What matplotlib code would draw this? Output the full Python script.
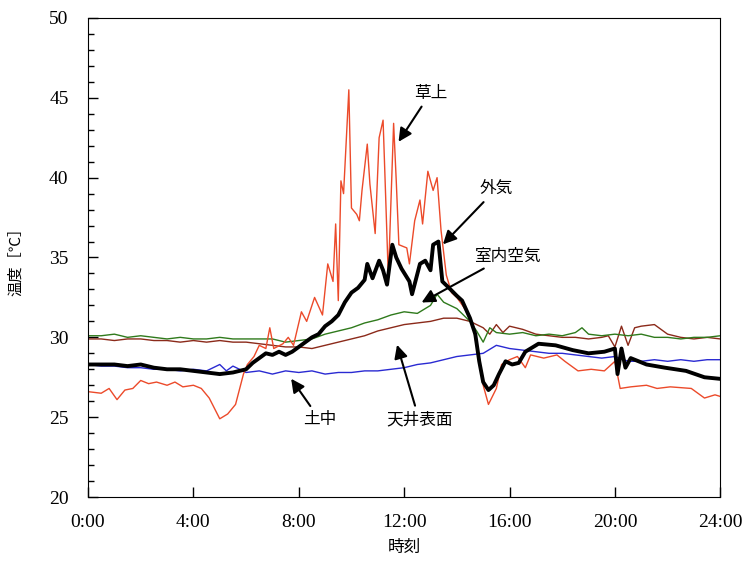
import matplotlib.pyplot as plt
from matplotlib.ticker import MultipleLocator, FuncFormatter

plt.rcParams['font.family'] = ['Noto Sans CJK JP', 'DejaVu Sans']

# 土中
t_soil = [0, 0.5, 1, 1.5, 2, 2.5, 3, 3.5, 4, 4.5, 5, 5.25, 5.5, 6, 6.5, 7, 7.5, 8, 8.5,
          9, 9.5, 10, 10.5, 11, 11.5, 12, 12.5, 13, 13.5, 14, 14.5, 15, 15.5, 16, 16.5,
          17, 17.5, 18, 18.5, 19, 19.5, 20, 20.5, 21, 21.5, 22, 22.5, 23, 23.5, 24]
v_soil = [28.3, 28.2, 28.2, 28.1, 28.1, 28.0, 28.0, 27.9, 28.0, 27.9, 28.3, 27.9, 28.2, 27.8,
          27.9, 27.7, 27.9, 27.8, 27.9, 27.7, 27.8, 27.8, 27.9, 27.9, 28.0, 28.1, 28.3, 28.4,
          28.6, 28.8, 28.9, 29.0, 29.5, 29.3, 29.2, 29.1, 29.0, 29.0, 28.9, 28.8, 28.7, 28.8,
          28.5, 28.5, 28.6, 28.5, 28.6, 28.5, 28.6, 28.6]

# 室内空気
t_room = [0, 0.5, 1, 1.5, 2, 2.5, 3, 3.5, 4, 4.5, 5, 5.5, 6, 6.5, 7, 7.5, 8, 8.5, 9, 9.5,
          10, 10.5, 11, 11.5, 12, 12.5, 13, 13.25, 13.5, 14, 14.5, 14.75, 15, 15.25, 15.5,
          16, 16.5, 17, 17.5, 18, 18.5, 18.75, 19, 19.5, 20, 20.5, 21, 21.5, 22, 22.5, 23,
          23.5, 24]
v_room = [30.1, 30.1, 30.2, 30.0, 30.1, 30.0, 29.9, 30.0, 29.9, 29.9, 30.0, 29.9, 29.9, 29.9,
          29.9, 29.7, 29.8, 29.9, 30.2, 30.4, 30.6, 30.9, 31.1, 31.4, 31.6, 31.5, 32.0, 32.7,
          32.2, 31.8, 31.0, 30.4, 29.7, 30.6, 30.3, 30.2, 30.3, 30.1, 30.2, 30.1, 30.3, 30.6,
          30.2, 30.1, 30.2, 30.1, 30.2, 30.0, 30.0, 29.9, 30.0, 30.0, 30.1]

# 天井表面
t_ceil = [0, 0.5, 1, 1.5, 2, 2.5, 3, 3.5, 4, 4.5, 5, 5.5, 6, 6.5, 7, 7.5, 8, 8.5, 9, 9.5,
          10, 10.5, 11, 11.5, 12, 12.5, 13, 13.5, 14, 14.5, 15, 15.25, 15.5, 15.75, 16, 16.5,
          17, 17.5, 18, 18.5, 19, 19.5, 19.75, 20, 20.25, 20.5, 20.75, 21, 21.5, 22, 22.5,
          23, 23.5, 24]
v_ceil = [29.9, 29.9, 29.8, 29.9, 29.9, 29.8, 29.8, 29.7, 29.8, 29.7, 29.8, 29.7, 29.7, 29.6,
          29.5, 29.4, 29.4, 29.3, 29.5, 29.7, 29.9, 30.1, 30.4, 30.6, 30.8, 30.9, 31.0, 31.2,
          31.2, 31.0, 30.6, 30.2, 30.8, 30.3, 30.7, 30.5, 30.2, 30.1, 30.0, 30.0, 29.9, 30.0,
          30.1, 29.4, 30.7, 29.5, 30.6, 30.7, 30.8, 30.2, 30.0, 29.9, 30.0, 29.9]

# 外気
t_out = [0, 0.5, 1, 1.5, 2, 2.5, 3, 3.5, 4, 4.5, 5, 5.5, 6, 6.25, 6.5, 6.75, 7, 7.25, 7.5,
         7.75, 8, 8.25, 8.5, 8.75, 9, 9.25, 9.5, 9.75, 10, 10.25, 10.5, 10.6, 10.8, 11.05,
         11.2, 11.35, 11.55, 11.7, 11.9, 12.2, 12.3, 12.6, 12.8, 13.0, 13.1, 13.3, 13.45,
         13.7, 14.0, 14.2, 14.5, 14.7, 14.85, 15.0, 15.2, 15.4, 15.6, 15.85, 16.1, 16.35,
         16.6, 17.1, 17.75, 18.4, 19.0, 19.6, 20.0, 20.1, 20.25, 20.4, 20.6, 21.2, 21.9,
         22.7, 23.4, 24]
v_out = [28.3, 28.3, 28.3, 28.2, 28.3, 28.1, 28.0, 28.0, 27.9, 27.8, 27.7, 27.8, 28.0, 28.4,
         28.7, 29.0, 28.9, 29.1, 28.9, 29.1, 29.4, 29.7, 30.0, 30.2, 30.7, 31.0, 31.4, 32.2,
         32.8, 33.1, 33.6, 34.6, 33.7, 34.8, 34.2, 33.3, 35.8, 35.0, 34.3, 33.5, 32.7, 34.6,
         34.8, 34.2, 35.8, 36.0, 33.5, 33.1, 32.6, 32.3, 31.2, 30.2, 28.5, 27.2, 26.7, 27.0,
         27.7, 28.5, 28.3, 28.4, 29.1, 29.6, 29.5, 29.2, 29.0, 29.1, 29.3, 27.7, 29.3, 28.1,
         28.7, 28.3, 28.1, 27.9, 27.5, 27.4]

# 草上
t_grass = [0, 0.5, 0.8, 1.1, 1.4, 1.7, 2.0, 2.3, 2.6, 3.0, 3.3, 3.6, 4.0, 4.3, 4.6, 5.0,
           5.3, 5.6, 5.9, 6.05, 6.3, 6.5, 6.75, 6.9, 7.05, 7.4, 7.6, 7.8, 8.1, 8.3, 8.6, 8.9,
           9.1, 9.3, 9.4, 9.5, 9.6, 9.7, 9.9, 10.0, 10.2, 10.3, 10.4, 10.6, 10.7, 10.9, 11.05,
           11.2, 11.3, 11.4, 11.6, 11.7, 11.8, 12.1, 12.2, 12.4, 12.6, 12.7, 12.9, 13.1,
           13.25, 13.4, 13.6, 13.8, 14.0, 14.3, 14.6, 14.8, 15.0, 15.2, 15.5, 15.7, 16.0,
           16.3, 16.6, 16.8, 17.3, 17.8, 18.1, 18.6, 19.1, 19.6, 20.0, 20.2, 20.6, 21.2,
           21.6, 22.1, 22.9, 23.4, 23.8, 24]
v_grass = [26.6, 26.5, 26.8, 26.1, 26.7, 26.8, 27.3, 27.1, 27.2, 27.0, 27.2, 26.9, 27.0,
           26.8, 26.2, 24.9, 25.2, 25.8, 27.7, 28.3, 28.8, 29.5, 29.3, 30.6, 29.3, 29.6,
           30.0, 29.5, 31.6, 31.0, 32.5, 31.4, 34.6, 33.5, 37.1, 32.3, 39.8, 39.0, 45.5,
           38.1, 37.7, 37.3, 39.2, 42.1, 39.6, 36.5, 42.5, 43.6, 38.7, 33.7, 43.4, 39.8,
           35.8, 35.6, 34.6, 37.3, 38.6, 37.1, 40.4, 39.2, 40.0, 36.7, 33.9, 32.8, 32.5,
           31.8, 30.8, 29.0, 27.0, 25.8, 26.8, 28.3, 28.6, 28.8, 28.1, 28.9, 28.7, 28.9,
           28.5, 27.9, 28.0, 27.9, 28.5, 26.8, 26.9, 27.0, 26.8, 26.9, 26.8, 26.2, 26.4, 26.3]

fig = plt.figure(figsize=(7.55, 5.61), dpi=100)
ax = fig.add_axes([0.1166, 0.114, 0.8374, 0.854])

ax.plot(t_soil, v_soil, color='#2a2ad2', lw=1.0)
ax.plot(t_ceil, v_ceil, color='#8b2a1a', lw=1.0)
ax.plot(t_room, v_room, color='#2f7a1c', lw=1.0)
ax.plot(t_grass, v_grass, color='#ec4a2a', lw=1.0)
ax.plot(t_out, v_out, color='black', lw=2.8)

ax.set_xlim(0, 24)
ax.set_ylim(20, 50)
ax.xaxis.set_major_locator(MultipleLocator(4))
ax.yaxis.set_major_locator(MultipleLocator(5))
ax.yaxis.set_minor_locator(MultipleLocator(1))
ax.xaxis.set_major_formatter(FuncFormatter(lambda x, p: f'{int(x)}:00'))
ax.tick_params(direction='in', length=7, width=1, top=False, right=False)
ax.tick_params(which='minor', direction='in', length=4, width=1)
for lab in ax.get_xticklabels() + ax.get_yticklabels():
    lab.set_fontfamily('Liberation Serif')
    lab.set_fontsize(14)
ax.tick_params(axis='x', pad=12)
ax.tick_params(axis='y', pad=14)

ax.set_xlabel('時刻', fontsize=12, labelpad=6)
ax.set_ylabel('温度［℃］', fontsize=11, labelpad=18)

arrow = dict(arrowstyle='-|>', color='black', lw=1.5, mutation_scale=20)
ax.annotate('草上', xy=(11.73, 42.1), xytext=(13.0, 45.3), fontsize=12,
            ha='center', va='center', arrowprops=arrow)
ax.annotate('外気', xy=(13.4, 35.7), xytext=(15.5, 39.3), fontsize=12,
            ha='center', va='center', arrowprops=arrow)
ax.annotate('室内空気', xy=(12.57, 32.1), xytext=(15.9, 35.1), fontsize=12,
            ha='center', va='center', arrowprops=arrow)
ax.annotate('土中', xy=(7.65, 27.55), xytext=(8.8, 24.85), fontsize=12,
            ha='center', va='center', arrowprops=arrow)
ax.annotate('天井表面', xy=(11.7, 29.7), xytext=(12.57, 24.85), fontsize=12,
            ha='center', va='center', arrowprops=arrow)

fig.savefig('out.png', dpi=100)
